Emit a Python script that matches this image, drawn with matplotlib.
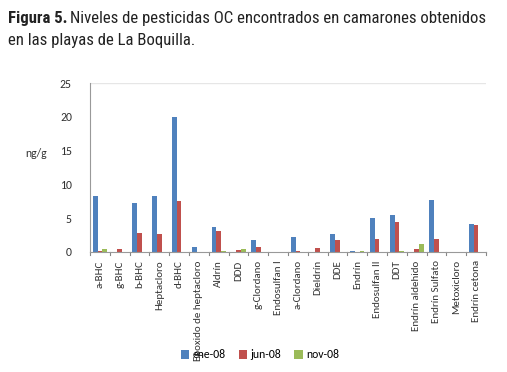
import matplotlib
matplotlib.use("Agg")
import matplotlib.pyplot as plt
from matplotlib import font_manager
import numpy as np

categories = ["a-BHC", "g-BHC", "b-BHC", "Heptacloro", "d-BHC", "Epoxido de heptacloro",
              "Aldrín", "DDD", "g-Clordano", "Endosulfan I", "a-Clordano", "Dieldrín",
              "DDE", "Endrín", "Endosulfan II", "DDT", "Endrín aldehido", "Endrín Sulfato",
              "Metoxicloro", "Endrín cetona"]
ene08 = [8.3, 0, 7.2, 8.3, 20.0, 0.8, 3.7, 0, 1.8, 0, 2.25, 0, 2.6, 0.1, 5.1, 5.4, 0, 7.7, 0, 4.2]
jun08 = [0.15, 0.5, 2.8, 2.7, 7.5, 0, 3.1, 0.35, 0.7, 0, 0.15, 0.55, 1.8, 0, 1.9, 4.4, 0.45, 1.9, 0, 4.0]
nov08 = [0.5, 0, 0, 0, 0, 0, 0.1, 0.4, 0, 0, 0, 0, 0, 0.1, 0, 0.15, 1.2, 0, 0, 0]
series_names = ["ene-08", "jun-08", "nov-08"]
colors = ["#4F81BD", "#C0504D", "#9BBB59"]
yticks = [0, 5, 10, 15, 20, 25]

names = {f.name for f in font_manager.fontManager.ttflist}
def pick(prefs, default="Liberation Sans"):
    for p in prefs:
        if p in names:
            return p
    return default

title_font = pick(["Roboto Condensed", "Archivo Narrow", "PT Sans Narrow", "Liberation Sans Narrow",
                   "Encode Sans Condensed", "Asap Condensed"])
label_font = pick(["Carlito", "Calibri", "Archivo Narrow", "PT Sans Narrow", "Roboto Condensed"])
num_font = pick(["Carlito", "Calibri", "Liberation Sans"])

fig = plt.figure(figsize=(5.07, 3.72), dpi=100)
ax = fig.add_axes([90/507, 1-252/372, 396/507, 169/372])

x = np.arange(len(categories))
w = 0.24
for i, (vals, c, n) in enumerate(zip([ene08, jun08, nov08], colors, series_names)):
    ax.bar(x + (i-1)*w, vals, width=w, color=c, label=n)

ax.set_xlim(-0.5, len(categories)-0.5)
ax.set_ylim(0, 25)
ax.set_yticks(yticks)
ax.set_yticklabels([str(t) for t in yticks], fontsize=8.5, color="#333333", family=num_font)
ax.tick_params(axis="y", length=0, pad=13)
ax.set_xticks(x)
ax.set_xticklabels(categories, rotation=90, fontsize=7.9, color="#333333", family=label_font)
ax.tick_params(axis="x", length=0, pad=6)
for b in np.arange(-0.5, len(categories)+0.5, 1):
    ax.plot([b, b], [0, -0.5], color="#888888", lw=0.8, clip_on=False)
ax.axhline(25, color="#e6e6e6", lw=1)
for s in ["top", "right"]:
    ax.spines[s].set_visible(False)
ax.spines["left"].set_color("#999999")
ax.spines["bottom"].set_color("#999999")

fig.text(25/507, 1-153/372, "ng/g", fontsize=8.5, va="center", ha="left", color="#333333",
         family=num_font)

fig.legend(loc="center", bbox_to_anchor=(260/507, 1-355/372), ncol=3, frameon=False,
           prop={"family": num_font, "size": 8.5}, handlelength=0.7, handleheight=0.7,
           columnspacing=1.1, handletextpad=0.3)

# Title: bold lead-in followed by regular text
fig.canvas.draw()
r = fig.canvas.get_renderer()
tb = fig.text(8/507, 1-18/372, "Figura 5.", fontsize=12.1, va="center", ha="left",
              family=title_font, weight="bold", color="#222222")
bb = tb.get_window_extent(renderer=r)
fig.text((bb.x1 + 3)/507, 1-18/372, "Niveles de pesticidas OC encontrados en camarones obtenidos",
         fontsize=12.1, va="center", ha="left", family=title_font, color="#222222")
fig.text(8/507, 1-40/372, "en las playas de La Boquilla.", fontsize=12.1, va="center", ha="left",
         family=title_font, color="#222222")

fig.savefig("out.png", dpi=100)
